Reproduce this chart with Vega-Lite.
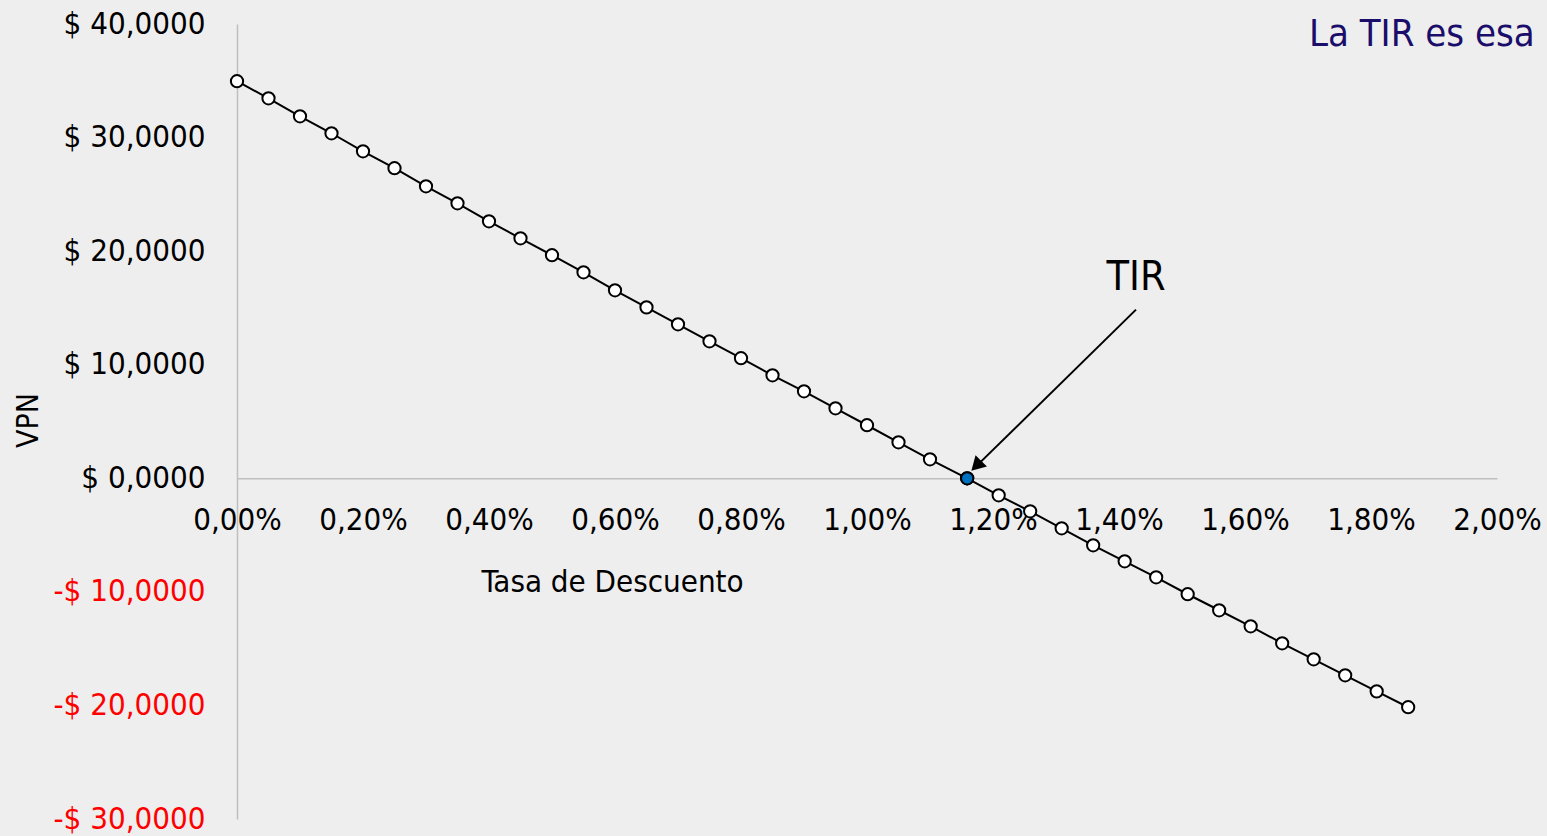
{
  "$schema": "https://vega.github.io/schema/vega-lite/v6.json",
  "width": 1260,
  "height": 795,
  "autosize": {"type": "none"},
  "padding": {"left": 237, "top": 24, "right": 50, "bottom": 17},
  "background": "#eeeeee",
  "config": {
    "view": {"stroke": null},
    "font": "DejaVu Sans Condensed, Liberation Sans, sans-serif"
  },
  "datasets": {
    "vpn": [
      {"tasa": 0, "vpn": 34.96}, {"tasa": 0.05, "vpn": 33.46}, {"tasa": 0.1, "vpn": 31.87},
      {"tasa": 0.15, "vpn": 30.38}, {"tasa": 0.2, "vpn": 28.79}, {"tasa": 0.25, "vpn": 27.3},
      {"tasa": 0.3, "vpn": 25.71}, {"tasa": 0.35, "vpn": 24.21}, {"tasa": 0.4, "vpn": 22.63},
      {"tasa": 0.45, "vpn": 21.13}, {"tasa": 0.5, "vpn": 19.64}, {"tasa": 0.55, "vpn": 18.14},
      {"tasa": 0.6, "vpn": 16.55}, {"tasa": 0.65, "vpn": 15.05}, {"tasa": 0.7, "vpn": 13.56},
      {"tasa": 0.75, "vpn": 12.06}, {"tasa": 0.8, "vpn": 10.57}, {"tasa": 0.85, "vpn": 9.07},
      {"tasa": 0.9, "vpn": 7.66}, {"tasa": 0.95, "vpn": 6.16}, {"tasa": 1.0, "vpn": 4.67},
      {"tasa": 1.05, "vpn": 3.17}, {"tasa": 1.1, "vpn": 1.67}, {"tasa": 1.159, "vpn": 0},
      {"tasa": 1.209, "vpn": -1.5}, {"tasa": 1.259, "vpn": -2.91}, {"tasa": 1.309, "vpn": -4.4},
      {"tasa": 1.359, "vpn": -5.9}, {"tasa": 1.409, "vpn": -7.31}, {"tasa": 1.459, "vpn": -8.72},
      {"tasa": 1.509, "vpn": -10.21}, {"tasa": 1.559, "vpn": -11.62}, {"tasa": 1.609, "vpn": -13.03},
      {"tasa": 1.659, "vpn": -14.53}, {"tasa": 1.709, "vpn": -15.94}, {"tasa": 1.759, "vpn": -17.35},
      {"tasa": 1.809, "vpn": -18.76}, {"tasa": 1.859, "vpn": -20.16}
    ],
    "tir": [{"tasa": 1.159, "vpn": 0}],
    "arrow": [{"tasa": 1.427, "vpn": 14.85, "tasa2": 1.176, "vpn2": 1.2}],
    "head": [{"tasa": 1.1735, "vpn": 1.1}],
    "tirlabel": [{"tasa": 1.427, "vpn": 17.65, "text": "TIR"}],
    "note": [{"tasa": 2.06, "vpn": 39.0, "text": "La TIR es esa"}]
  },
  "encoding": {
    "x": {
      "field": "tasa",
      "type": "quantitative",
      "scale": {"domain": [0, 2], "nice": false, "zero": false},
      "axis": {
        "orient": "bottom",
        "offset": -340.71,
        "values": [0, 0.2, 0.4, 0.6, 0.8, 1.0, 1.2, 1.4, 1.6, 1.8, 2.0],
        "labelExpr": "replace(format(datum.value, '.2f'), '.', ',') + '%'",
        "grid": false,
        "ticks": false,
        "domainColor": "#bfbfbf",
        "domainWidth": 1.5,
        "labelFontSize": 31,
        "labelColor": "#000000",
        "labelPadding": 27,
        "labelFlush": false,
        "labelOverlap": false,
        "labelBound": false,
        "title": "Tasa de Descuento",
        "titleFontSize": 31,
        "titleFontWeight": "normal",
        "titleColor": "#000000",
        "titleX": 375,
        "titleY": 104,
        "titleAlign": "center",
        "titleBaseline": "middle",
        "titleAnchor": null
      }
    },
    "y": {
      "field": "vpn",
      "type": "quantitative",
      "scale": {"domain": [-30, 40], "nice": false, "zero": false},
      "axis": {
        "values": [-30, -20, -10, 0, 10, 20, 30, 40],
        "labelExpr": "(datum.value < 0 ? '-$ ' : '$ ') + replace(format(abs(datum.value), '.4f'), '.', ',')",
        "labelColor": {"condition": {"test": "datum.value < 0", "value": "#ff0000"}, "value": "#000000"},
        "grid": false,
        "ticks": false,
        "domainColor": "#bfbfbf",
        "domainWidth": 1.5,
        "labelFontSize": 31,
        "labelPadding": 32,
        "labelOverlap": false,
        "labelBound": false,
        "labelFlush": false,
        "title": "VPN",
        "titleFontSize": 30,
        "titleFontWeight": "normal",
        "titleColor": "#000000",
        "titleX": -209,
        "titleY": 396,
        "titleAngle": -90,
        "titleAlign": "center",
        "titleBaseline": "middle",
        "titleAnchor": null
      }
    }
  },
  "layer": [
    {
      "data": {"name": "vpn"},
      "mark": {"type": "line", "color": "#000000", "strokeWidth": 2}
    },
    {
      "data": {"name": "vpn"},
      "mark": {"type": "point", "shape": "circle", "filled": true, "fill": "#ffffff", "stroke": "#000000", "strokeWidth": 2, "size": 150, "opacity": 1}
    },
    {
      "data": {"name": "tir"},
      "mark": {"type": "point", "shape": "circle", "filled": true, "fill": "#0070c0", "stroke": "#000000", "strokeWidth": 2, "size": 150, "opacity": 1}
    },
    {
      "data": {"name": "arrow"},
      "mark": {"type": "rule", "color": "#000000", "strokeWidth": 2},
      "encoding": {
        "x2": {"field": "tasa2"},
        "y2": {"field": "vpn2"}
      }
    },
    {
      "data": {"name": "head"},
      "mark": {"type": "point", "shape": "triangle-up", "filled": true, "fill": "#000000", "stroke": null, "size": 260, "angle": 225, "opacity": 1}
    },
    {
      "data": {"name": "tirlabel"},
      "mark": {"type": "text", "fontSize": 41, "align": "center", "baseline": "middle", "color": "#000000"},
      "encoding": {"text": {"field": "text"}}
    },
    {
      "data": {"name": "note"},
      "mark": {"type": "text", "fontSize": 38, "align": "right", "baseline": "middle", "color": "#1b0e6b"},
      "encoding": {"text": {"field": "text"}}
    }
  ]
}
